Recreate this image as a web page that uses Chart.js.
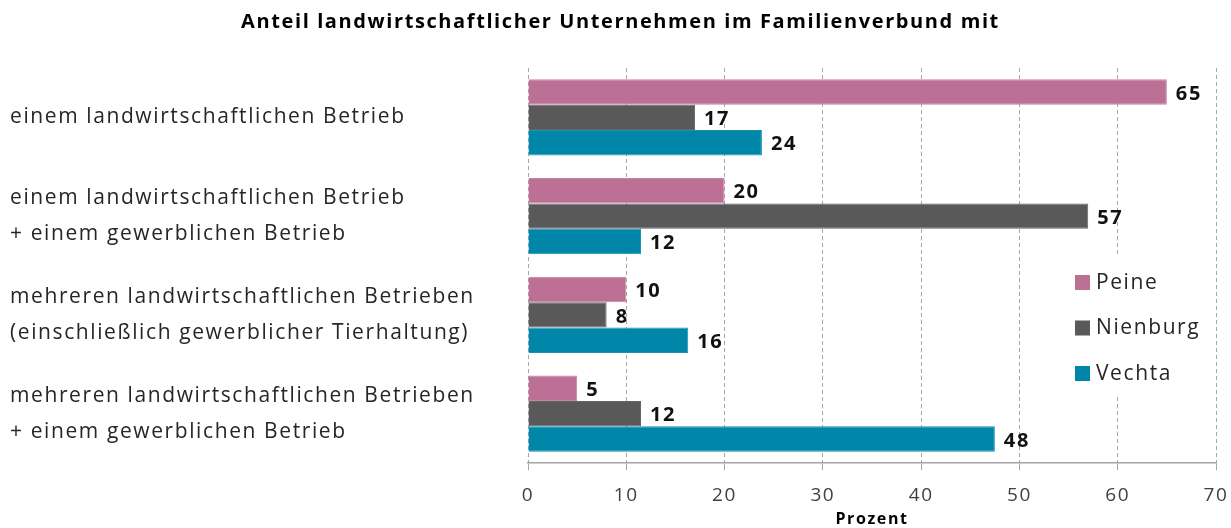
<!DOCTYPE html>
<html>
<head>
<meta charset="utf-8">
<script src="https://cdn.jsdelivr.net/npm/chart.js@4/dist/chart.umd.min.js"></script>
<style>
  html, body { margin: 0; padding: 0; background: #fff; }
  canvas { display: block; }
</style>
</head>
<body>
<canvas id="grafico" width="1231" height="528"></canvas>
<script>
// Daten
const kategorien = [
    ['einem landwirtschaftlichen Betrieb'],
    ['einem landwirtschaftlichen Betrieb', '+ einem gewerblichen Betrieb'],
    ['mehreren landwirtschaftlichen Betrieben', '(einschließlich gewerblicher Tierhaltung)'],
    ['mehreren landwirtschaftlichen Betrieben', '+ einem gewerblichen Betrieb']
];
const serien = ['Peine', 'Nienburg', 'Vechta'];
const peine = [65, 20, 10, 5];
const nienburg = [17, 57, 8, 11.5];
const vechta = [23.8, 11.5, 16.3, 47.5];
const xTicks = [0, 10, 20, 30, 40, 50, 60, 70];

const farben = ['#bc7095', '#595959', '#0086a8'];
const randFarben = ['#c583a2', '#656565', '#1a93b3'];
const schrift = "'Open Sans', sans-serif";

// etwas Zeichenabstand, damit die Texte so breit laufen wie im Original
const abstandPlugin = {
    id: 'abstand',
    beforeDraw(chart) {
        chart.ctx.letterSpacing = '1.6px';
    }
};

// Werte rechts neben den Balken
const wertePlugin = {
    id: 'werte',
    afterDatasetsDraw(chart) {
        const ctx = chart.ctx;
        ctx.save();
        ctx.font = `bold 20px ${schrift}`;
        ctx.fillStyle = '#111';
        ctx.textAlign = 'left';
        ctx.textBaseline = 'middle';
        chart.data.datasets.forEach((ds, i) => {
            chart.getDatasetMeta(i).data.forEach((bar, j) => {
                ctx.fillText(Math.round(ds.data[j]), bar.x + 9, bar.y + 2);
            });
        });
        ctx.restore();
    }
};

// Legende im Diagramm (rechts)
const legendePlugin = {
    id: 'legendeInnen',
    afterDraw(chart) {
        const ctx = chart.ctx;
        const area = chart.chartArea;
        const x0 = area.right - 141;
        const y0 = 282;
        ctx.save();
        ctx.fillStyle = '#fff';
        ctx.fillRect(x0 - 8, y0 - 26, 146, 140);
        ctx.font = `21px ${schrift}`;
        ctx.textBaseline = 'middle';
        chart.data.datasets.forEach((ds, i) => {
            const y = y0 + i * 45.5;
            ctx.fillStyle = ds.backgroundColor;
            ctx.fillRect(x0, y - 7, 15, 15);
            ctx.fillStyle = '#262626';
            ctx.fillText(ds.label, x0 + 21, y + 1);
        });
        ctx.restore();
    }
};

new Chart(document.getElementById('grafico'), {
    type: 'bar',
    data: {
        labels: kategorien,
        datasets: [
            { label: serien[0], data: peine, backgroundColor: farben[0], borderColor: randFarben[0] },
            { label: serien[1], data: nienburg, backgroundColor: farben[1], borderColor: randFarben[1] },
            { label: serien[2], data: vechta, backgroundColor: farben[2], borderColor: randFarben[2] }
        ]
    },
    options: {
        indexAxis: 'y',
        responsive: false,
        animation: false,
        datasets: {
            bar: { categoryPercentage: 0.77, barPercentage: 1, borderWidth: 1, borderSkipped: 'left' }
        },
        layout: { padding: { left: 10, right: 0, top: 0, bottom: 0 } },
        plugins: {
            legend: { display: false },
            tooltip: { enabled: false },
            title: {
                display: true,
                text: 'Anteil landwirtschaftlicher Unternehmen im Familienverbund mit',
                color: '#000',
                font: { family: schrift, size: 20, weight: 'bold', lineHeight: 1.2 },
                padding: { top: 10, bottom: 34 }
            }
        },
        scales: {
            x: {
                min: 0,
                max: 70,
                afterBuildTicks(scale) { scale.ticks = xTicks.map(v => ({ value: v })); },
                afterFit(scale) {
                    scale.height = 65;
                    scale.paddingRight = 15;
                },
                grid: { color: '#a6a6a6', lineWidth: 1, tickLength: 7, tickColor: '#a6a6a6' },
                border: { display: true, color: '#a6a6a6', width: 1.5, dash: [4, 3] },
                ticks: { color: '#404040', font: { family: schrift, size: 19 }, padding: 14 },
                title: {
                    display: true,
                    text: 'Prozent',
                    color: '#000',
                    font: { family: schrift, size: 16, weight: 'bold' },
                    padding: { top: 0, bottom: -1 }
                }
            },
            y: {
                afterFit(scale) { scale.width = 518; },
                grid: { display: false },
                border: { display: false },
                ticks: {
                    crossAlign: 'far',
                    color: '#262626',
                    font: { family: schrift, size: 21, lineHeight: 1.72 }
                }
            }
        }
    },
    plugins: [abstandPlugin, wertePlugin, legendePlugin]
});
</script>
</body>
</html>
